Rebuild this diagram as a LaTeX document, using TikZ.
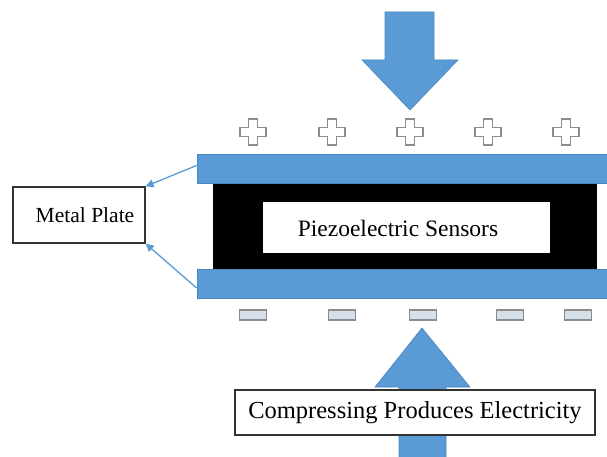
\documentclass[tikz,border=0pt]{standalone}
\usepackage{fontspec}
\setmainfont{Liberation Serif}
\usetikzlibrary{arrows.meta}
\definecolor{plateblue}{HTML}{5B9BD5}
\definecolor{plateedge}{HTML}{4A86C0}
\definecolor{signgray}{HTML}{8C8C8C}
\definecolor{minusfill}{HTML}{D6E0EA}
\tikzset{
  plate/.style={draw=plateedge, fill=plateblue, line width=0.8pt, minimum width=410pt, minimum height=29pt, inner sep=0pt},
  blockarrow/.style={fill=plateblue, draw=plateedge, line width=0.6pt},
  labelbox/.style={draw=black!80, fill=white, line width=1.3pt, inner sep=0pt},
  pointer/.style={draw=plateblue, line width=1.3pt, -{Triangle[length=8pt,width=8pt]}},
  plusshape/.pic={\draw[signgray, fill=white, line width=1.4pt]
    (-4.5,-13) -- (4.5,-13) -- (4.5,-4.5) -- (13,-4.5) -- (13,4.5) -- (4.5,4.5) -- (4.5,13)
    -- (-4.5,13) -- (-4.5,4.5) -- (-13,4.5) -- (-13,-4.5) -- (-4.5,-4.5) -- cycle;},
  minusbox/.style={draw=signgray, fill=minusfill, line width=1.4pt, minimum width=27pt, minimum height=10pt, inner sep=0pt}
}
\begin{document}
\begin{tikzpicture}[x=1pt,y=-1pt]
\useasboundingbox (0,0) rectangle (607,457);
% top block arrow
\draw[blockarrow] (385,12) -- (434,12) -- (434,60) -- (458,60) -- (410,110) -- (362,60) -- (385,60) -- cycle;
% plus signs
\foreach \x in {253,332,410,488,566} \pic at (\x,132) {plusshape};
% black piezo block
\fill[black] (213,182) rectangle (597,271);
% plates
\node[plate] (platetop) at (402,168.5) {};
\node[plate] (platebot) at (402,284) {};
% sensor box
\node[fill=white, minimum width=287pt, minimum height=51pt, inner sep=0pt] (sensorbox) at (406.5,227.5) {};
\node[font=\fontsize{23.5}{26}\selectfont] (sensortext) at (398,228) {Piezoelectric Sensors};
% minus signs
\foreach \x/\n in {253/a,342/b,423/c,510/d,578/e} \node[minusbox] (minus\n) at (\x,315) {};
% bottom block arrow
\draw[blockarrow] (399,470) -- (399,387) -- (375,387) -- (422,328) -- (470,387) -- (446,387) -- (446,470) -- cycle;
% labels
\node[labelbox, minimum width=132pt, minimum height=56pt, font=\fontsize{21.5}{24}\selectfont] (metal) at (79,215) {\hspace*{12pt}Metal Plate};
\node[labelbox, minimum width=360pt, minimum height=45pt, font=\fontsize{24.5}{27}\selectfont] (compress) at (415,412.5) {Compressing Produces Electricity};
% pointers
\draw[pointer] ([yshift=3pt]platetop.west) -- (metal.north east);
\draw[pointer] ([yshift=-4pt]platebot.west) -- (metal.south east);
\end{tikzpicture}
\end{document}
